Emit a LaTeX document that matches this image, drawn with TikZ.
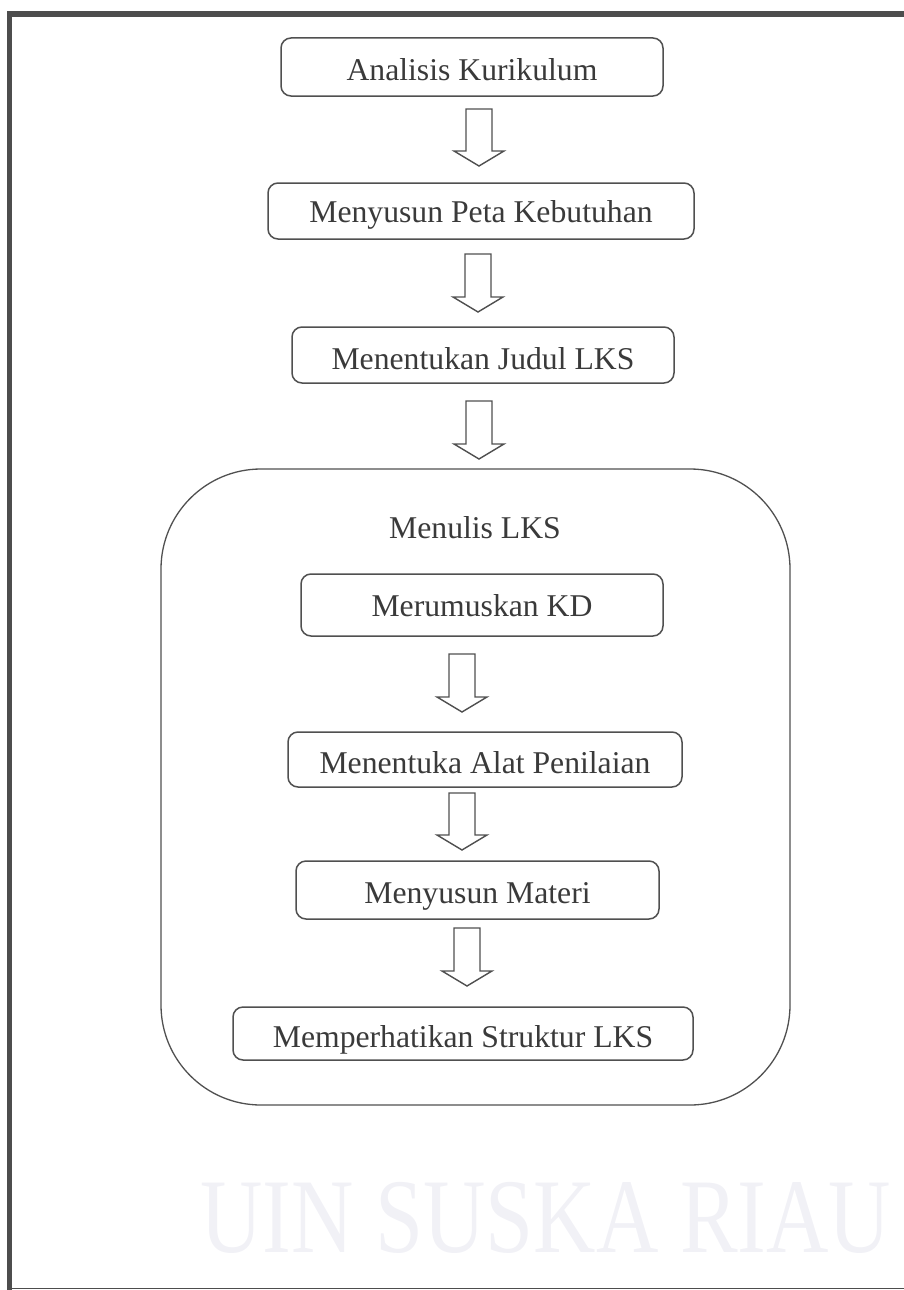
\documentclass[tikz,border=0pt]{standalone}
\usepackage{fontspec}
\setmainfont{Liberation Serif}
\usetikzlibrary{calc}
\definecolor{framec}{HTML}{4D4D4D}
\definecolor{boxline}{HTML}{505050}
\definecolor{txt}{HTML}{3A3A3A}
\definecolor{wm}{HTML}{F1F1F6}
\begin{document}
\begin{tikzpicture}[x=1pt,y=-1pt,
 stepbox/.style={draw=boxline, line width=1.5pt, rounded corners=10pt, inner sep=0pt, text=txt, font=\fontsize{31.7}{36}\selectfont, align=center},
 bigbox/.style={draw=boxline, line width=1.3pt, rounded corners=100pt, inner sep=0pt},
 lbl/.style={text=txt, font=\fontsize{31.7}{36}\selectfont, inner sep=0pt},
 hollow/.style={draw=boxline, line width=1.4pt, fill=white, line join=miter,
   to path={let \p1=(\tikztostart), \p2=(\tikztotarget) in
     (\x1-13pt,\y1) -- (\x1+13pt,\y1) -- (\x1+13pt,\y2+15pt) -- (\x1+25pt,\y2+15pt)
     -- (\x1,\y2) -- (\x1-25pt,\y2+15pt) -- (\x1-13pt,\y2+15pt) -- cycle}},
]
\useasboundingbox (0,0) rectangle (903,1290);
% watermark text
\node[text=wm, font=\fontsize{106}{110}\selectfont, xscale=0.815, anchor=base west, inner sep=0pt] (wmark) at (200,1252) {UIN SUSKA RIAU};
% frame
\draw[framec, line width=5.5pt, line join=miter] (9.5,1292) -- (9.5,14) -- (905,14);
\draw[framec, line width=1pt] (7,1288) -- (905,1288);
% boxes
\node[stepbox, minimum width=382pt, minimum height=58pt, text height=43pt, text depth=15pt] (b1) at (472,67) {Analisis Kurikulum};
\node[stepbox, minimum width=426pt, minimum height=56pt, text height=39pt, text depth=17pt] (b2) at (481,211) {Menyusun Peta Kebutuhan};
\node[stepbox, minimum width=382pt, minimum height=56pt, text height=42pt, text depth=14pt] (b3) at (483,355) {Menentukan Judul LKS};
\node[bigbox, minimum width=629pt, minimum height=636pt] (lks) at (475.5,787) {};
\node[lbl, anchor=base] (lkst) at (475,538) {Menulis LKS};
\node[stepbox, minimum width=362pt, minimum height=62pt, text height=42pt, text depth=20pt] (b4) at (482,605) {Merumuskan KD};
\node[stepbox, minimum width=394pt, minimum height=55pt, text height=41pt, text depth=14pt] (b5) at (485,759.5) {Menentuka Alat Penilaian};
\node[stepbox, minimum width=363pt, minimum height=58pt, text height=42pt, text depth=16pt] (b6) at (477.5,890) {Menyusun Materi};
\node[stepbox, minimum width=460pt, minimum height=53pt, text height=40pt, text depth=13pt] (b7) at (463,1033.5) {Memperhatikan Struktur LKS};
% arrows
\coordinate (a1s) at (479,109); \coordinate (a1e) at (479,166);
\coordinate (a2s) at (478,254); \coordinate (a2e) at (478,312);
\coordinate (a3s) at (479,401); \coordinate (a3e) at (479,459);
\coordinate (a4s) at (462,654); \coordinate (a4e) at (462,712);
\coordinate (a5s) at (462,793); \coordinate (a5e) at (462,850);
\coordinate (a6s) at (467,928); \coordinate (a6e) at (467,986);
\draw[hollow] (a1s) to (a1e);
\draw[hollow] (a2s) to (a2e);
\draw[hollow] (a3s) to (a3e);
\draw[hollow] (a4s) to (a4e);
\draw[hollow] (a5s) to (a5e);
\draw[hollow] (a6s) to (a6e);
\end{tikzpicture}
\end{document}
